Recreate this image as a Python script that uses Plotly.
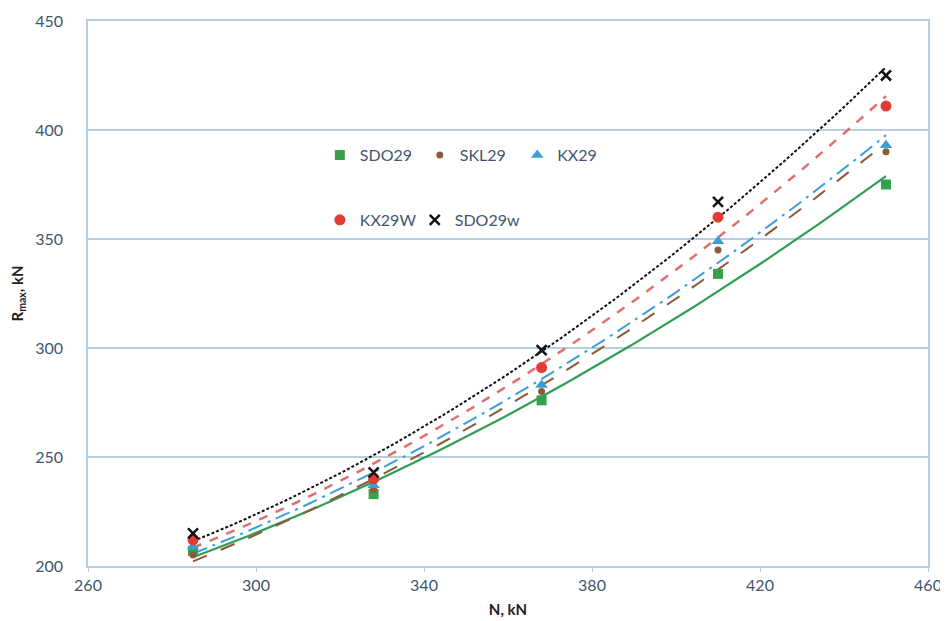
import numpy as np
import plotly.graph_objects as go

# Data
N_kN = [285, 328, 368, 410, 450]
SDO29 = [207, 233, 276, 334, 375]
SKL29 = [205, 235, 280, 345, 390]
KX29 = [209, 237, 283, 349, 393]
KX29W = [212, 240, 291, 360, 411]
SDO29w = [215, 243, 299, 367, 425]

series_names = ["SDO29", "SKL29", "KX29", "KX29W", "SDO29w"]
series_values = [SDO29, SKL29, KX29, KX29W, SDO29w]

x_ticks = [260, 300, 340, 380, 420, 460]
y_ticks = [200, 250, 300, 350, 400, 450]

styles = {
    "SDO29": dict(color="#35a24a", symbol="square", size=10, dash="solid", lcolor="#2f9e55", lw=2.2),
    "SKL29": dict(color="#8a5a3a", symbol="circle", size=7, dash="longdash", lcolor="#8a5a3a", lw=2),
    "KX29": dict(color="#3a9fd6", symbol="triangle-up", size=11, dash="longdashdot", lcolor="#3a9fd6", lw=2),
    "KX29W": dict(color="#e23b34", symbol="circle", size=11, dash="dash", lcolor="#e07070", lw=2.5),
    "SDO29w": dict(color="#111111", symbol="x-thin-open", size=10, dash="3px,2px", lcolor="#111111", lw=2),
}

# legend placement (paper coords): one legend box per entry
legend_pos = {
    "SDO29": (0.276, 0.754),
    "SKL29": (0.395, 0.754),
    "KX29": (0.511, 0.754),
    "KX29W": (0.276, 0.635),
    "SDO29w": (0.389, 0.635),
}

fig = go.Figure()
xd = np.array(N_kN, dtype=float)
xs = np.linspace(xd.min(), xd.max(), 100)
for name, vals in zip(series_names, series_values):
    st = styles[name]
    coef = np.polyfit(xd, np.array(vals, dtype=float), 2)
    fig.add_trace(go.Scatter(
        x=xs, y=np.polyval(coef, xs), mode="lines", showlegend=False,
        line=dict(color=st["lcolor"], width=st["lw"], dash=st["dash"]), hoverinfo="skip"))

font_main = "Lato, Open Sans, sans-serif"
txt_color = "#3f566c"
grid_color = "#b7cde0"

legend_layouts = {}
for i, (name, vals) in enumerate(zip(series_names, series_values)):
    st = styles[name]
    mk = dict(color=st["color"], symbol=st["symbol"], size=st["size"])
    if st["symbol"].endswith("open"):
        mk["line"] = dict(color=st["color"], width=2.5)
    lname = "legend" if i == 0 else f"legend{i + 1}"
    fig.add_trace(go.Scatter(
        x=N_kN, y=vals, mode="markers", name=name, marker=mk, legend=lname))
    lx, ly = legend_pos[name]
    legend_layouts[lname] = dict(
        x=lx, y=ly, xanchor="left", yanchor="middle", orientation="h",
        bgcolor="rgba(0,0,0,0)", itemwidth=30,
        font=dict(size=16, color=txt_color, family=font_main))

fig.update_layout(
    width=940, height=613,
    paper_bgcolor="white", plot_bgcolor="white",
    margin=dict(l=80, r=20, t=13, b=55, autoexpand=False),
    font=dict(family=font_main, size=16, color=txt_color),
    **legend_layouts,
    xaxis=dict(range=[260, 460], tickvals=x_ticks, showgrid=False, automargin=False,
               showline=True, linecolor=grid_color, linewidth=1.5, mirror=True,
               ticks="outside", ticklen=4, tickcolor=grid_color,
               tickfont=dict(size=16, color=txt_color), zeroline=False,
               title=dict(text="<b>N, kN</b>", font=dict(size=15, color="#222222"), standoff=12)),
    yaxis=dict(range=[200, 450], tickvals=y_ticks, showgrid=True, gridcolor=grid_color,
               automargin=False,
               gridwidth=1.5, showline=True, linecolor=grid_color, linewidth=1.5, mirror=True,
               ticks="", ticklabelstandoff=20,
               tickfont=dict(size=16, color=txt_color), zeroline=False,
               title=dict(text="<b>R<sub>max</sub>, kN</b>", font=dict(size=15, color="#222222"), standoff=9)),
)

fig.write_html("out.html")
